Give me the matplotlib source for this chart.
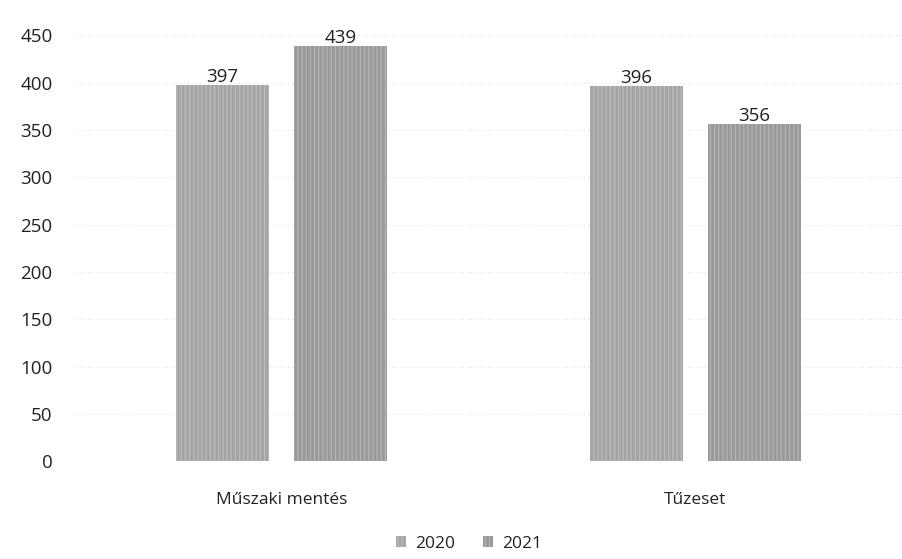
import numpy as np
import matplotlib
matplotlib.use("Agg")
import matplotlib.pyplot as plt

# ---------- DATA ----------
categories = ["Műszaki mentés", "Tűzeset"]
series_names = ["2020", "2021"]
values_2020 = [397, 396]
values_2021 = [439, 356]
y_ticks = [0, 50, 100, 150, 200, 250, 300, 350, 400, 450]

plt.rcParams["font.family"] = ["Open Sans", "DejaVu Sans"]

fig = plt.figure(figsize=(9.02, 5.59), dpi=100)
ax = fig.add_axes([0.083, 0.175, 0.917, 0.762])

x = np.arange(len(categories))
w = 0.225
gap = 0.06
colors = ["#a4a4a4", "#999999"]

b1 = ax.bar(x - (w + gap) / 2, values_2020, width=w, color=colors[0],
            hatch="||||", edgecolor="#bababa", linewidth=0, label=series_names[0])
b2 = ax.bar(x + (w + gap) / 2, values_2021, width=w, color=colors[1],
            hatch="||||", edgecolor="#b2b2b2", linewidth=0, label=series_names[1])

for bars in (b1, b2):
    for r in bars:
        ax.text(r.get_x() + r.get_width() / 2, r.get_height() - 1,
                f"{int(r.get_height())}", ha="center", va="bottom",
                fontsize=13.5, color="#222222")

ax.set_xlim(-0.5, 1.5)
ax.set_ylim(0, 450)
ax.set_yticks(y_ticks)
ax.set_xticks(x)
ax.set_xticklabels(categories)
ax.tick_params(axis="y", length=0, labelsize=13.5, labelcolor="#222222", pad=16)
ax.tick_params(axis="x", length=0, labelsize=12.5, labelcolor="#222222", pad=22)
for s in ax.spines.values():
    s.set_visible(False)

# faint dotted scan-like gridlines
ax.grid(axis="y", linestyle=(0, (1, 4)), color="#c8c8c8", linewidth=0.6)
ax.set_axisbelow(True)

fig.legend(handles=[b1, b2], labels=series_names, loc="lower center",
           bbox_to_anchor=(0.52, -0.015), ncol=2, frameon=False, fontsize=12.5,
           handlelength=0.6, handleheight=0.6, columnspacing=1.6,
           handletextpad=0.5, labelcolor="#222222")

fig.savefig("out.png", dpi=100)
